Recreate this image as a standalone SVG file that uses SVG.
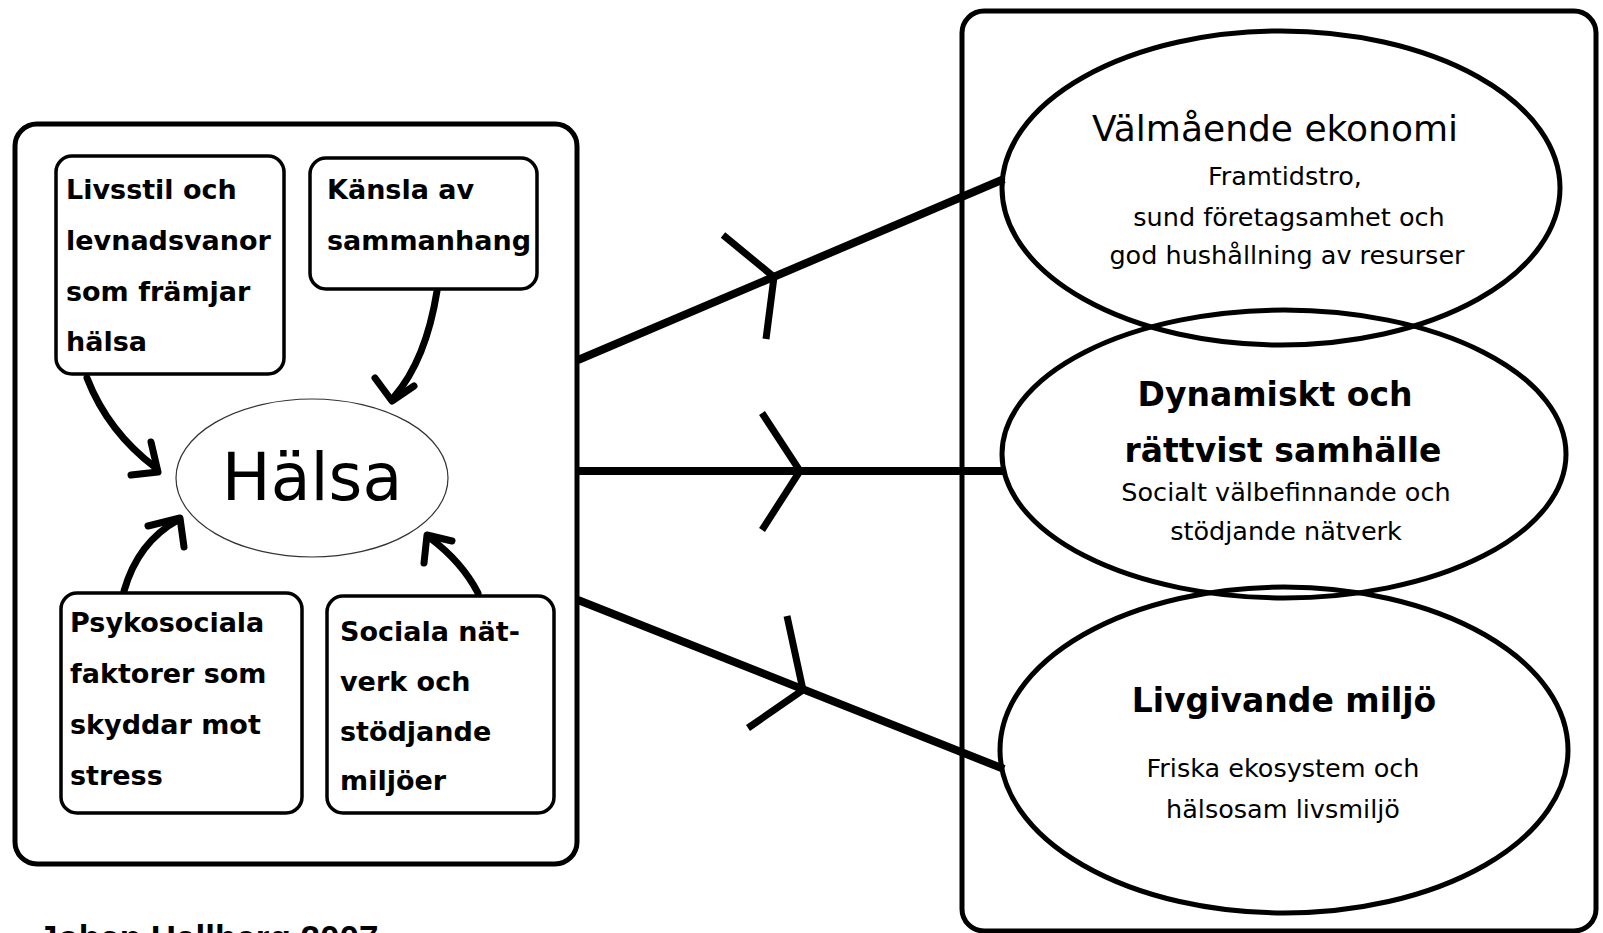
<svg xmlns="http://www.w3.org/2000/svg" width="1603" height="933" viewBox="0 0 1603 933">
<style>
.frame{fill:none;stroke:#000;stroke-width:5}
.box{fill:#fff;stroke:#000;stroke-width:3.5}
.big{fill:none;stroke:#000;stroke-width:5}
.thin{fill:#fff;stroke:#333;stroke-width:1.2}
.bt{font-family:"DejaVu Sans",sans-serif;font-weight:bold;font-size:27px;fill:#000}
.t1{font-family:"DejaVu Sans",sans-serif;font-size:36px;fill:#000;text-anchor:middle}
.t1b{font-family:"DejaVu Sans",sans-serif;font-weight:bold;font-size:33px;fill:#000;text-anchor:middle}
.t2{font-family:"DejaVu Sans",sans-serif;font-size:25.5px;fill:#000;text-anchor:middle}
.arr{fill:none;stroke:#000;stroke-width:7;stroke-linecap:round;stroke-linejoin:round}
.con{fill:none;stroke:#000;stroke-width:8}
.head{fill:none;stroke:#000;stroke-width:7;stroke-linejoin:miter}
</style>
<rect width="1603" height="933" fill="#fff"/>
<g id="left-frame"><rect class="frame" x="15" y="124" width="562" height="740" rx="22"/></g>
<g id="right-frame"><rect class="frame" x="962" y="11" width="634" height="920" rx="22"/></g>
<g id="connectors">
<path class="arr" d="M87,378 Q108,432 156,468"/>
<polyline class="arr" points="151,442 158,472 131,475"/>
<path class="arr" d="M437,291 Q426,360 394,397"/>
<polyline class="arr" points="375,378 392,401 414,386"/>
<path class="arr" d="M124,591 Q138,542 178,520"/>
<polyline class="arr" points="148,526 180,518 184,547"/>
<path class="arr" d="M478,593 Q462,562 430,538"/>
<polyline class="arr" points="452,541 427,535 424,563"/>
<line class="con" x1="578" y1="360" x2="1004" y2="179"/>
<polyline class="head" points="723,235 774,277 766,339"/>
<line class="con" x1="578" y1="471" x2="1004" y2="471"/>
<polyline class="head" points="762,413 800,471 762,530"/>
<line class="con" x1="578" y1="600" x2="1004" y2="769"/>
<polyline class="head" points="787,616 803,690 748,728"/>
</g>
<g id="n-livsstil">
<rect class="box" x="56" y="156" width="228" height="218" rx="16"/>
<text class="bt" x="66" y="199">Livsstil och</text>
<text class="bt" x="66" y="250">levnadsvanor</text>
<text class="bt" x="66" y="301">som främjar</text>
<text class="bt" x="66" y="351">hälsa</text>
</g>
<g id="n-kansla">
<rect class="box" x="310" y="158" width="227" height="131" rx="16"/>
<text class="bt" x="327" y="199">Känsla av</text>
<text class="bt" x="327" y="250">sammanhang</text>
</g>
<g id="n-halsa">
<ellipse class="thin" cx="312" cy="478" rx="136" ry="79"/>
<text x="312" y="500" font-family="DejaVu Sans, sans-serif" font-size="65" text-anchor="middle" fill="#000">Hälsa</text>
</g>
<g id="n-psyko">
<rect class="box" x="61" y="593" width="241" height="220" rx="16"/>
<text class="bt" x="70" y="632">Psykosociala</text>
<text class="bt" x="70" y="683">faktorer som</text>
<text class="bt" x="70" y="734">skyddar mot</text>
<text class="bt" x="70" y="785">stress</text>
</g>
<g id="n-sociala">
<rect class="box" x="327" y="596" width="227" height="217" rx="16"/>
<text class="bt" x="340" y="641">Sociala nät-</text>
<text class="bt" x="340" y="691">verk och</text>
<text class="bt" x="340" y="741">stödjande</text>
<text class="bt" x="340" y="790">miljöer</text>
</g>
<g id="n-ekonomi">
<ellipse class="big" cx="1281" cy="188" rx="279" ry="157"/>
<text class="t1" x="1275" y="141">Välmående ekonomi</text>
<text class="t2" x="1285" y="185">Framtidstro,</text>
<text class="t2" x="1289" y="226">sund företagsamhet och</text>
<text class="t2" x="1287" y="264">god hushållning av resurser</text>
</g>
<g id="n-samhalle">
<ellipse class="big" cx="1284" cy="454" rx="282" ry="144"/>
<text class="t1b" x="1275" y="406">Dynamiskt och</text>
<text class="t1b" x="1283" y="462">rättvist samhälle</text>
<text class="t2" x="1286" y="501">Socialt välbefinnande och</text>
<text class="t2" x="1286" y="540">stödjande nätverk</text>
</g>
<g id="n-miljo">
<ellipse class="big" cx="1284" cy="750" rx="284" ry="163"/>
<text class="t1b" x="1284" y="712">Livgivande miljö</text>
<text class="t2" x="1283" y="777">Friska ekosystem och</text>
<text class="t2" x="1283" y="818">hälsosam livsmiljö</text>
</g>
<text x="38" y="950" font-family="Liberation Sans, Arial, sans-serif" font-weight="bold" font-size="35" fill="#000">Johan Hallberg 2007</text>
</svg>
